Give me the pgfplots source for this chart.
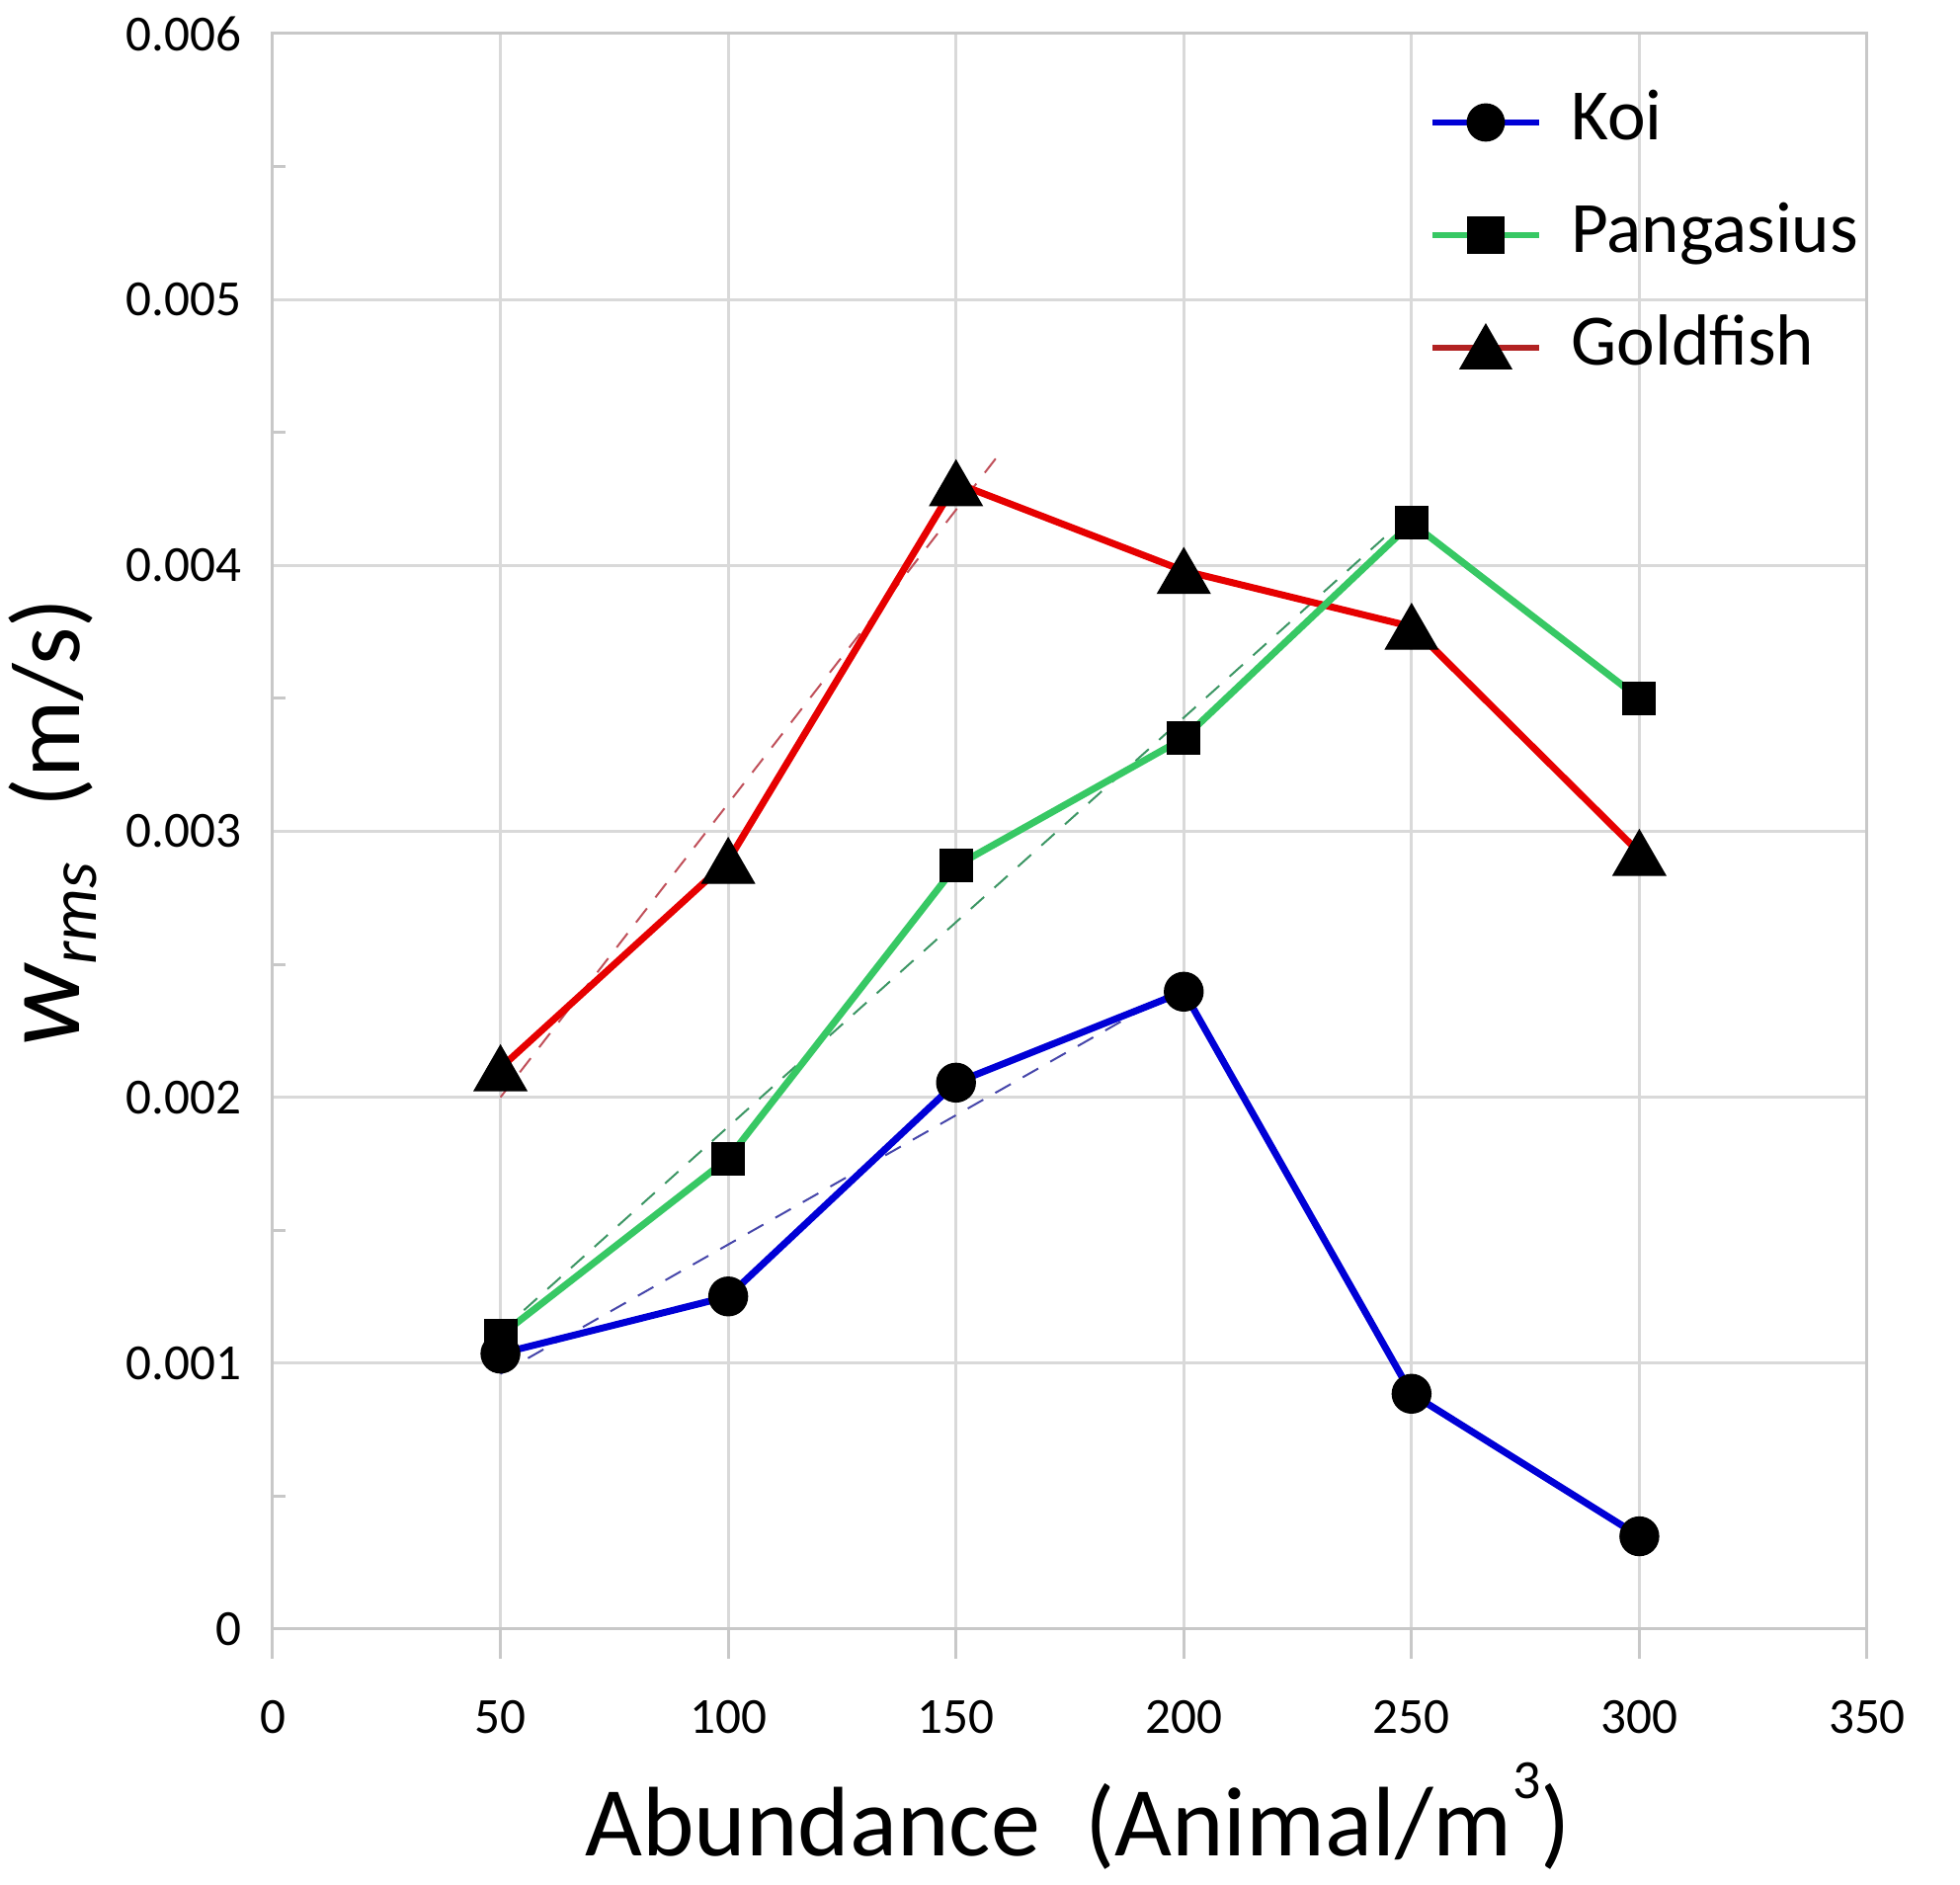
\documentclass[border=0pt]{standalone}
\usepackage{fontspec}
\setmainfont{Carlito}
\usepackage{pgfplots}
\pgfplotsset{compat=1.18}
\definecolor{koi}{RGB}{0,0,214}
\definecolor{pang}{RGB}{55,200,100}
\definecolor{gold}{RGB}{230,0,0}
\definecolor{goldleg}{RGB}{178,34,34}
\definecolor{tred}{RGB}{192,80,90}
\definecolor{tgreen}{RGB}{60,150,100}
\definecolor{tblue}{RGB}{70,70,170}
\definecolor{gridc}{RGB}{217,217,217}
\definecolor{axisc}{RGB}{200,200,200}
\begin{document}
\begin{tikzpicture}
\useasboundingbox (0,0) rectangle (496pt,477pt);
\begin{axis}[
  at={(69pt,64.75pt)}, anchor=south west,
  width=403.5pt, height=403.75pt, scale only axis,
  xmin=0, xmax=350, ymin=0, ymax=0.006,
  xtick={0,50,100,150,200,250,300,350},
  xticklabels={0,50,100,150,200,250,300,350},
  ytick={0,0.001,0.002,0.003,0.004,0.005,0.006},
  yticklabels={0,0.001,0.002,0.003,0.004,0.005,0.006},
  scaled y ticks=false,
  grid=major,
  major grid style={draw=gridc, line width=0.75pt},
  axis line style={draw=axisc, line width=0.75pt},
  tick align=inside, major tick length=0pt, minor tick length=3.25pt,
  minor y tick num=1,
  tick style={draw=axisc, line width=0.75pt},
  xtick pos=bottom, ytick pos=left,
  extra x ticks={0,50,100,150,200,250,300,350},
  extra x tick labels={},
  extra x tick style={major tick length=7.5pt, tick align=outside, grid=none},
  tick label style={font=\fontsize{12.8}{14}\selectfont},
  xticklabel style={anchor=north, inner sep=0pt, yshift=-17.75pt},
  yticklabel style={anchor=east, inner sep=0pt, xshift=-7.75pt},
  every axis x label/.style={at={(axis description cs:0.505,-0.1418)}, anchor=base, inner sep=0pt, font=\fontsize{25}{30}\selectfont},
  every axis y label/.style={at={(axis description cs:-0.1214,0.5055)}, rotate=90, anchor=base, inner sep=0pt, font=\fontsize{24.5}{30}\selectfont},
  xlabel={Abundance\ \ (Animal/m\raisebox{14.5pt}{\fontsize{14}{14}\selectfont 3})},
  ylabel={{\fontsize{29}{30}\selectfont\itshape w}\raisebox{-4.25pt}{\fontsize{17}{18}\selectfont\itshape rms}\hspace{14pt}(m/s)},
  legend style={at={(axis description cs:0.725,0.8737)}, anchor=west, draw=none, fill=none,
    inner sep=0pt, font=\fontsize{18.3}{22}\selectfont,
    nodes={inner sep=0pt, text height=13pt, text depth=4pt}, column sep=7.4pt, row sep=11.5pt},
  legend cell align=left,
  legend image code/.code={\draw[mark repeat=2,mark phase=2,#1] plot coordinates {(0pt,0pt) (13.5pt,0pt) (27pt,0pt)};},
]
% trend lines
\addplot[forget plot, tred, line width=0.5pt, dash pattern=on 4.5pt off 3.5pt] coordinates {(50,0.00200) (160,0.00443)};
\addplot[forget plot, tgreen, line width=0.5pt, dash pattern=on 4.5pt off 3.5pt] coordinates {(50,0.00112) (245,0.00412)};
\addplot[forget plot, tblue, line width=0.5pt, dash pattern=on 4.5pt off 3.5pt] coordinates {(50,0.00096) (196,0.00238)};
% series
\addplot[forget plot, gold, line width=1.75pt, mark=triangle*, mark size=7.65pt, mark options={fill=black, draw=black, line width=0.3pt, yshift=-1.9pt}]
  coordinates {(50,0.00211) (100,0.00289) (150,0.00431) (200,0.00398) (250,0.00377) (300,0.00292)};
\addplot[forget plot, pang, line width=1.75pt, mark=square*, mark size=4.1pt, mark options={fill=black, draw=black, line width=0.3pt}]
  coordinates {(50,0.001104) (100,0.00177) (150,0.00287) (200,0.00335) (250,0.00416) (300,0.00350)};
\addplot[forget plot, koi, line width=1.75pt, mark=*, mark size=4.9pt, mark options={fill=black, draw=black, line width=0.3pt}]
  coordinates {(50,0.001036) (100,0.001251) (150,0.002055) (200,0.002397) (250,0.000885) (300,0.000349)};
% legend
\addlegendimage{koi, line width=1.5pt, mark=*, mark size=4.1pt, mark options={fill=black, draw=black}}
\addlegendentry{Koi}
\addlegendimage{pang, line width=1.5pt, mark=square*, mark size=4.1pt, mark options={fill=black, draw=black}}
\addlegendentry{Pangasius}
\addlegendimage{goldleg, line width=1.5pt, mark=triangle*, mark size=6.3pt, mark options={fill=black, draw=black, yshift=-1.57pt}}
\addlegendentry{Goldfish}
\end{axis}
\end{tikzpicture}
\end{document}
